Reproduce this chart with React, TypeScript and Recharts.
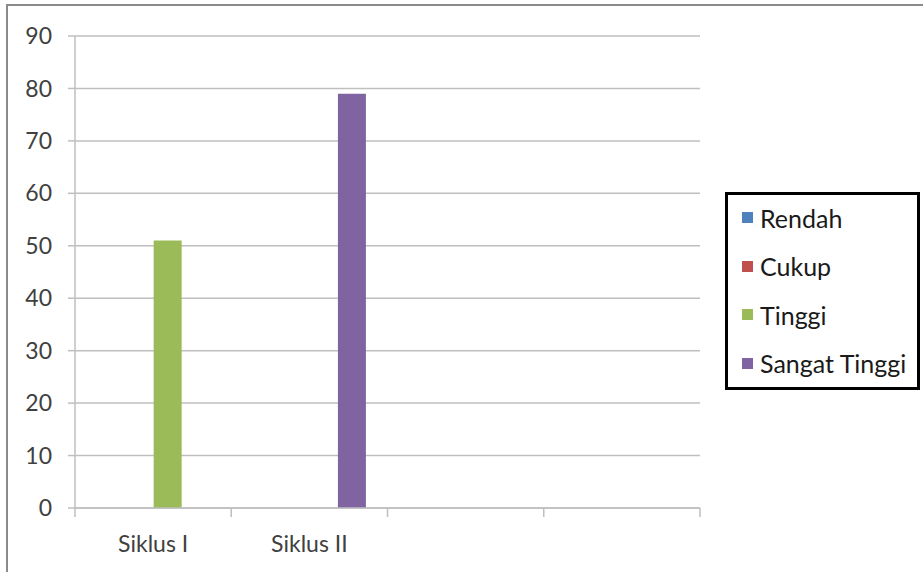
import React from "react";
import { BarChart, Bar, XAxis, YAxis, CartesianGrid } from "recharts";

const categories = ["Siklus I", "Siklus II", "", ""];
const rendah = [0, 0, 0, 0];
const cukup = [0, 0, 0, 0];
const tinggi = [51, 0, 0, 0];
const sangatTinggi = [0, 79, 0, 0];
const yTicks = [0, 10, 20, 30, 40, 50, 60, 70, 80, 90];

const seriesNames = ["Rendah", "Cukup", "Tinggi", "Sangat Tinggi"];
const seriesColors = ["#4f81bd", "#c0504d", "#9bbb59", "#8064a2"];

const data = categories.map((c, i) => ({
  name: c,
  Rendah: rendah[i],
  Cukup: cukup[i],
  Tinggi: tinggi[i],
  "Sangat Tinggi": sangatTinggi[i],
}));

const FONT = "Lato, 'Open Sans', sans-serif";
const GRID = "#bfbfbf";

const XTick = (props: any) => {
  const { x, payload, index, visibleTicksCount } = props;
  const band = 625 / categories.length;
  const left = x - band / 2;
  const right = x + band / 2;
  const last = index === (visibleTicksCount ?? categories.length) - 1;
  const axisY = 508;
  return (
    <g>
      <line x1={left} y1={axisY} x2={left} y2={axisY + 9} stroke={GRID} strokeWidth={1.5} />
      {last && <line x1={right} y1={axisY} x2={right} y2={axisY + 9} stroke={GRID} strokeWidth={1.5} />}
      <text x={x} y={axisY + 44} textAnchor="middle" fill="#404040" fontSize={23} fontFamily={FONT}>
        {payload.value}
      </text>
    </g>
  );
};

const LegendBox = () => (
  <div
    style={{
      position: "absolute",
      left: 725,
      top: 192,
      width: 195,
      height: 198,
      border: "3.5px solid #000",
      boxSizing: "border-box",
      background: "#fff",
      fontFamily: FONT,
      fontSize: 25,
      color: "#1a1a1a",
    }}
  >
    {seriesNames.map((n, i) => (
      <div
        key={n}
        style={{
          position: "absolute",
          left: 14,
          top: 26 + i * 48.5 - 3.5 - 15,
          height: 30,
          display: "flex",
          alignItems: "center",
          whiteSpace: "nowrap",
        }}
      >
        <span style={{ display: "inline-block", width: 11, height: 11, background: seriesColors[i], marginRight: 7 }} />
        <span>{n}</span>
      </div>
    ))}
  </div>
);

export default function App() {
  return (
    <div style={{ position: "absolute", left: 0, top: 0, width: 923, height: 572, background: "#fff", overflow: "hidden" }}>
      <div
        style={{
          position: "absolute",
          left: 6,
          top: 4,
          width: 940,
          height: 600,
          border: "2px solid #8a8a8a",
          boxSizing: "border-box",
        }}
      />
      <BarChart
        width={923}
        height={572}
        data={data}
        margin={{ top: 36, right: 223, bottom: 34, left: 0 }}
        barCategoryGap="14.5%"
        barGap={0}
        style={{ position: "absolute", left: 0, top: 0 }}
      >
        <CartesianGrid vertical={false} stroke={GRID} strokeWidth={1.5} />
        <XAxis
          dataKey="name"
          height={30}
          axisLine={{ stroke: GRID, strokeWidth: 1.5 }}
          tickLine={false}
          tick={<XTick />}
          interval={0}
        />
        <YAxis
          width={75}
          domain={[0, 90]}
          ticks={yTicks}
          interval={0}
          axisLine={{ stroke: GRID, strokeWidth: 1.5 }}
          tickLine={{ stroke: GRID, strokeWidth: 1.5 }}
          tickSize={7}
          tickMargin={16}
          tick={{ fill: "#404040", fontSize: 23, fontFamily: FONT }}
        />
        {seriesNames.map((n, i) => (
          <Bar key={n} dataKey={n} fill={seriesColors[i]} isAnimationActive={false} />
        ))}
      </BarChart>
      <LegendBox />
    </div>
  );
}
